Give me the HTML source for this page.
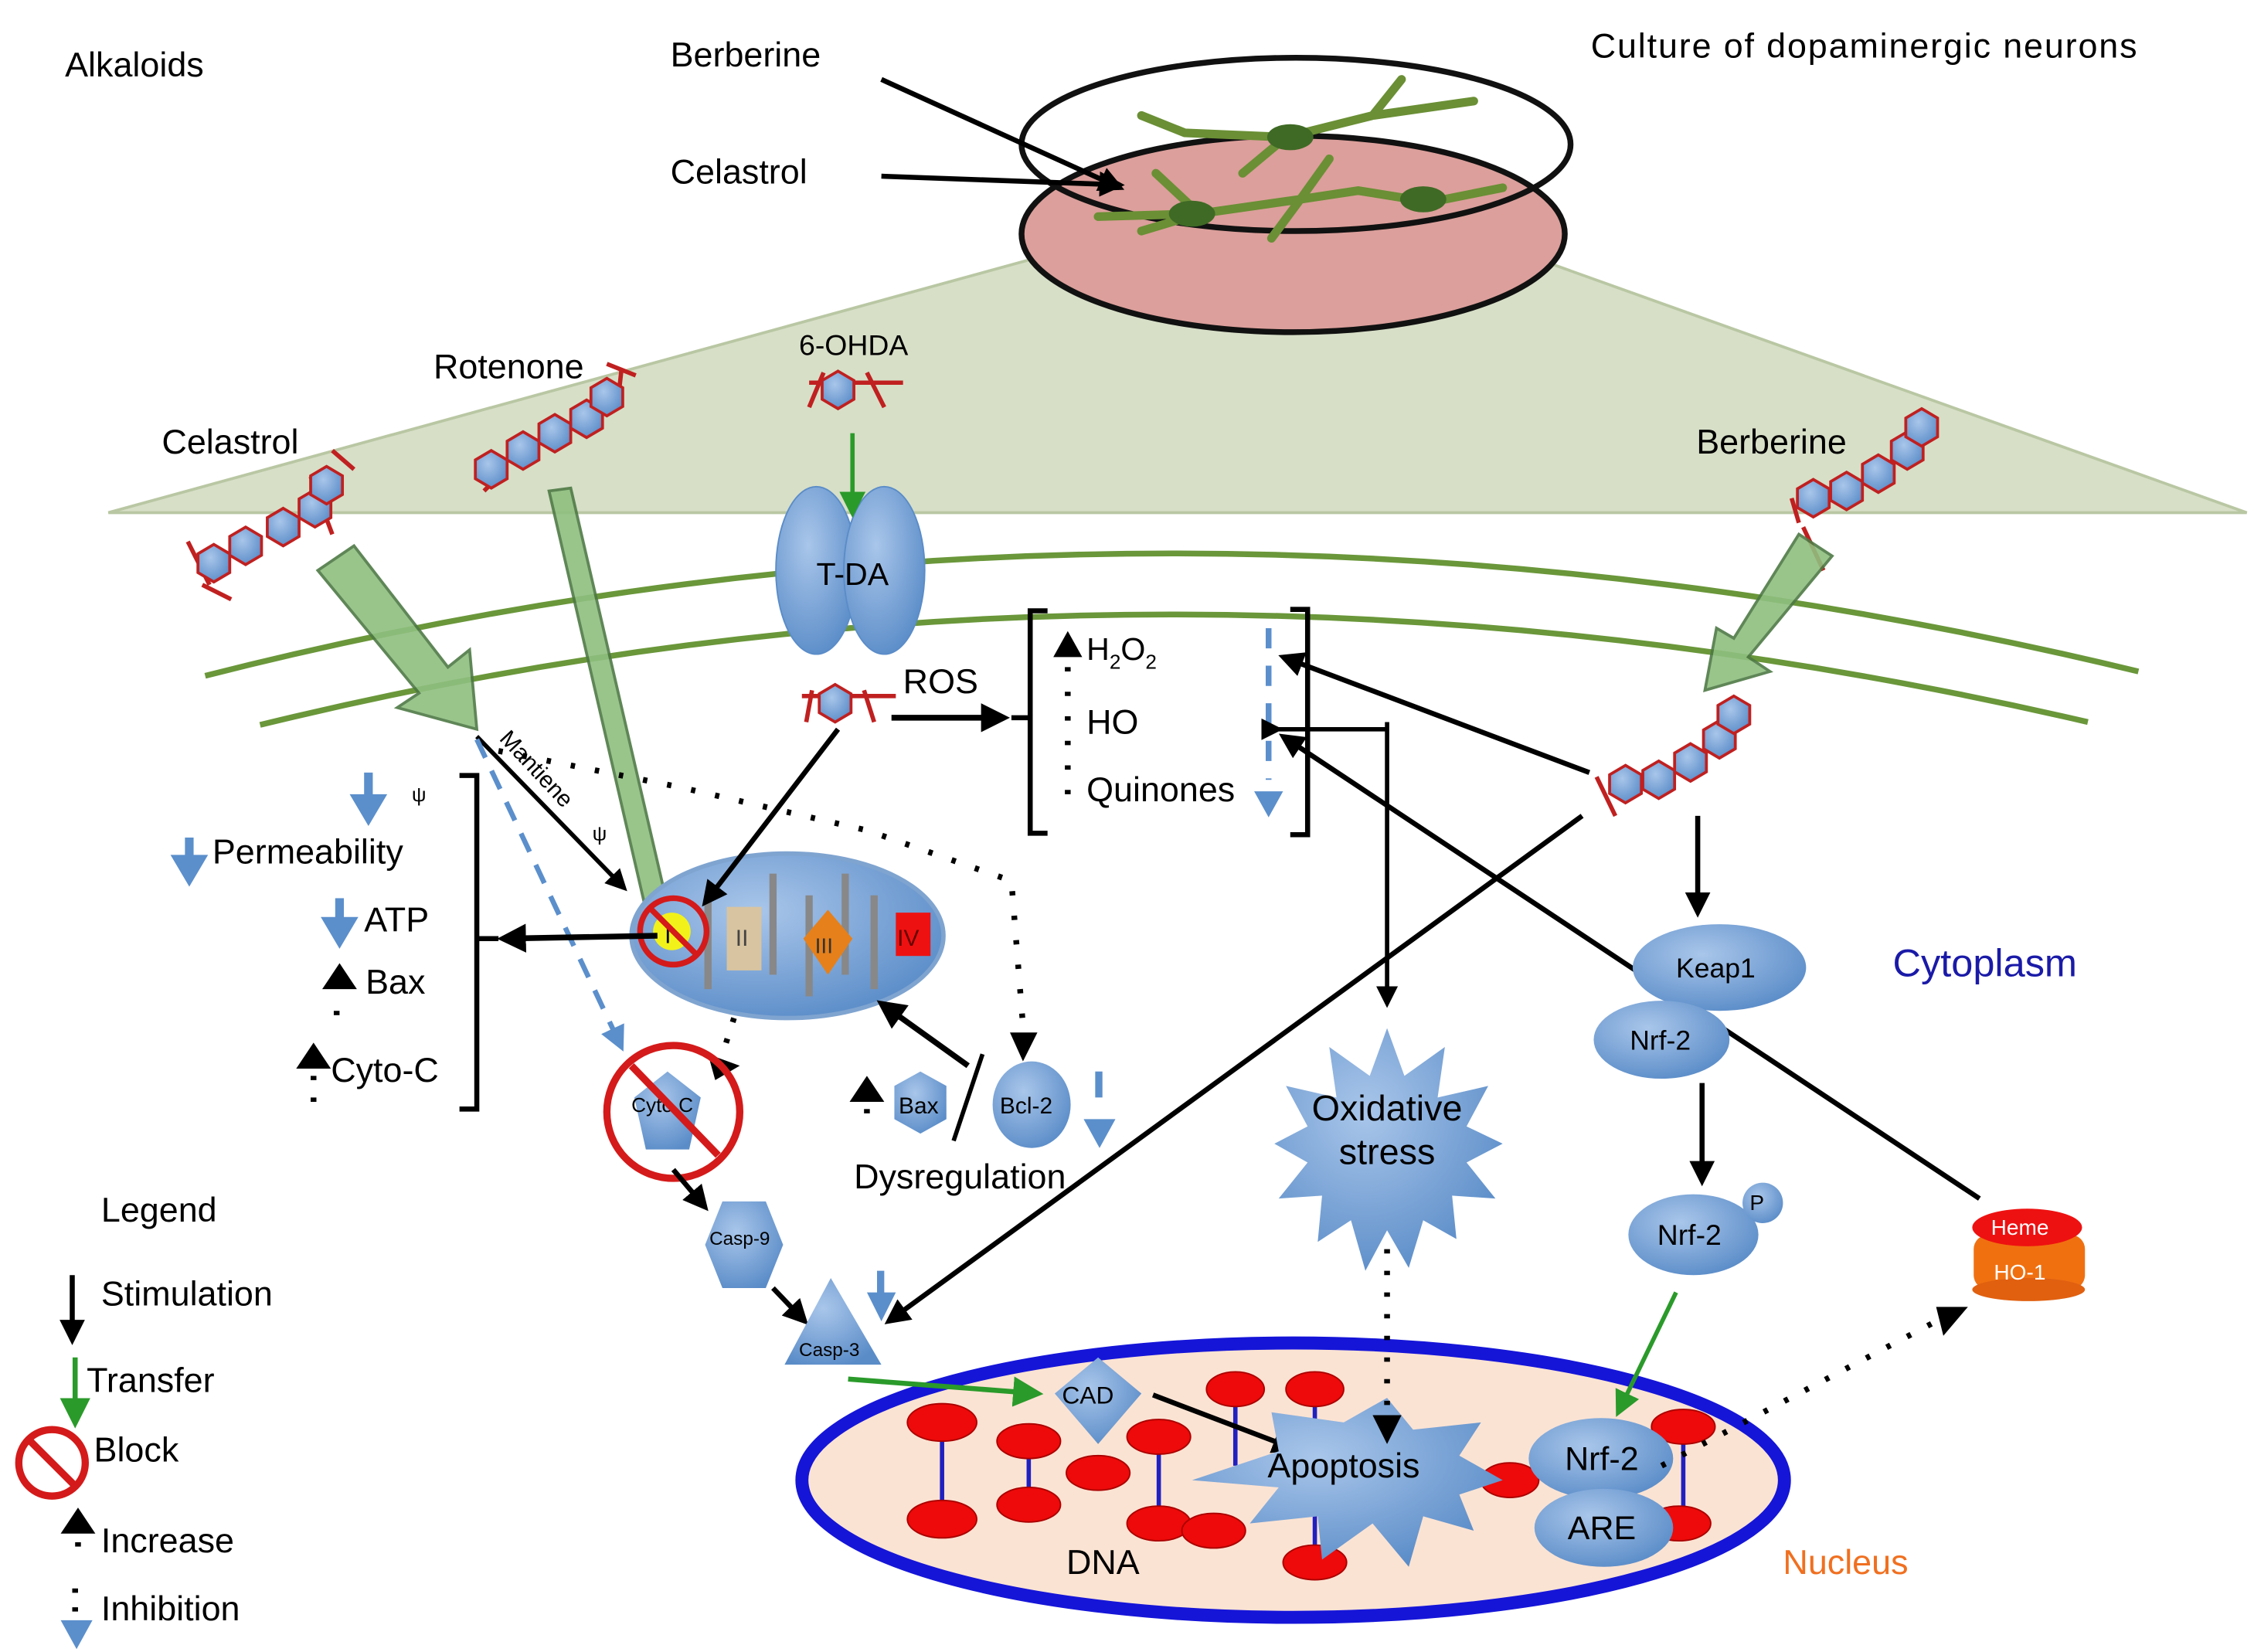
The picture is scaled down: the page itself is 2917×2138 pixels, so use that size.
<!DOCTYPE html>
<html><head><meta charset="utf-8"><style>
html,body{margin:0;padding:0;background:#fff}
svg{display:block}
text{font-family:"Liberation Sans",sans-serif;fill:#000}
</style></head><body>
<svg width="2917" height="2138" viewBox="0 0 1560 1144" preserveAspectRatio="none" xmlns="http://www.w3.org/2000/svg">
<defs>
<marker id="ab" viewBox="0 0 10 10" refX="8" refY="5" markerWidth="5" markerHeight="5" orient="auto"><path d="M0,0L10,5L0,10z" fill="#000"/></marker>
<marker id="ag" viewBox="0 0 10 10" refX="8" refY="5" markerWidth="6" markerHeight="6" orient="auto"><path d="M0,0L10,5L0,10z" fill="#2a9a2a"/></marker>
<marker id="abl" viewBox="0 0 10 10" refX="8" refY="5" markerWidth="5" markerHeight="5" orient="auto"><path d="M0,0L10,5L0,10z" fill="#5b8fcc"/></marker>
<radialGradient id="bg" cx="40%" cy="35%" r="70%"><stop offset="0" stop-color="#a9c6ea"/><stop offset="1" stop-color="#5a8cc8"/></radialGradient>
<g id="hex"><polygon points="0,-13 11,-6.5 11,6.5 0,13 -11,6.5 -11,-6.5" fill="url(#bg)" stroke="#c02020" stroke-width="2"/></g>
</defs>

<polygon points="75,355 1555,355 1010,160 785,160" fill="#d7dfc7" stroke="#b9c7a3" stroke-width="2"/>

<ellipse cx="895" cy="162" rx="188" ry="68" fill="#dc9f9b" stroke="#111" stroke-width="4"/>
<ellipse cx="897" cy="100" rx="190" ry="60" fill="none" stroke="#111" stroke-width="4"/>
<g stroke="#6a8f35" stroke-width="6" fill="none" stroke-linecap="round">
<path d="M760,150 L830,148 L900,138 L940,132 L990,140 L1040,130 M830,148 L800,120 M830,148 L790,160 M900,138 L920,110 M900,138 L880,165"/>
<path d="M820,92 L890,95 L950,80 L1020,70 M890,95 L860,120 M950,80 L970,55 M820,92 L790,80"/>
</g>
<g fill="#3f6a25"><ellipse cx="825" cy="148" rx="16" ry="9"/><ellipse cx="893" cy="95" rx="16" ry="9"/><ellipse cx="985" cy="138" rx="16" ry="9"/></g>
<line x1="610" y1="55" x2="775" y2="130" stroke="#000" stroke-width="3.5" marker-end="url(#ab)"/>
<line x1="610" y1="122" x2="775" y2="128" stroke="#000" stroke-width="3.5" marker-end="url(#ab)"/>

<path d="M142,468 Q800,300 1480,465" fill="none" stroke="#6a973a" stroke-width="4"/>
<path d="M180,502 Q800,350 1445,500" fill="none" stroke="#6a973a" stroke-width="4"/>

<text x="45" y="53" font-size="24">Alkaloids</text>
<text x="464" y="46" font-size="24">Berberine</text>
<text x="464" y="127" font-size="24">Celastrol</text>
<text x="1101" y="40" font-size="24" textLength="378">Culture of dopaminergic neurons</text>
<text x="300" y="262" font-size="24">Rotenone</text>
<text x="553" y="246" font-size="20">6-OHDA</text>
<text x="112" y="314" font-size="24">Celastrol</text>
<text x="1174" y="314" font-size="24">Berberine</text>
<text x="1310" y="676" font-size="27" style="fill:#1a1aa8">Cytoplasm</text>

<g stroke="#c02020" stroke-width="3">
<line x1="130" y1="375" x2="145" y2="405"/><line x1="230" y1="312" x2="245" y2="325"/><line x1="215" y1="330" x2="230" y2="370"/><line x1="140" y1="405" x2="160" y2="415"/>
<line x1="420" y1="252" x2="440" y2="260"/><line x1="430" y1="257" x2="428" y2="275"/><line x1="345" y1="330" x2="335" y2="340"/>
<line x1="560" y1="265" x2="625" y2="265"/><line x1="570" y1="258" x2="560" y2="282"/><line x1="600" y1="258" x2="612" y2="282"/>
<line x1="555" y1="482" x2="620" y2="482"/><line x1="562" y1="478" x2="558" y2="500"/><line x1="598" y1="478" x2="605" y2="500"/>
<line x1="1240" y1="345" x2="1245" y2="362"/><line x1="1105" y1="538" x2="1118" y2="565"/><line x1="1248" y1="365" x2="1262" y2="395"/>
</g>
<use href="#hex" x="148" y="390"/><use href="#hex" x="170" y="378"/><use href="#hex" x="196" y="365"/><use href="#hex" x="218" y="352"/><use href="#hex" x="226" y="336"/>
<use href="#hex" x="340" y="325"/><use href="#hex" x="362" y="312"/><use href="#hex" x="384" y="300"/><use href="#hex" x="406" y="290"/><use href="#hex" x="420" y="275"/>
<use href="#hex" x="580" y="270"/>
<use href="#hex" x="578" y="487"/>
<use href="#hex" x="1255" y="345"/><use href="#hex" x="1278" y="340"/><use href="#hex" x="1300" y="328"/><use href="#hex" x="1320" y="312"/><use href="#hex" x="1330" y="296"/>
<use href="#hex" x="1125" y="543"/><use href="#hex" x="1148" y="540"/><use href="#hex" x="1170" y="528"/><use href="#hex" x="1190" y="512"/><use href="#hex" x="1200" y="495"/>

<polygon points="220,395 245,378 310,462 325,450 330,505 275,490 290,480" fill="#8fbf7f" stroke="#4e7a45" stroke-width="2" opacity="0.9"/>
<polygon points="1245,370 1268,385 1210,455 1225,465 1180,478 1188,435 1200,442" fill="#8fbf7f" stroke="#4e7a45" stroke-width="2" opacity="0.9"/>
<polygon points="380,340 395,338 465,640 450,643" fill="#8fbf7f" stroke="#4e7a45" stroke-width="2" opacity="0.9"/>

<ellipse cx="565" cy="395" rx="28" ry="58" fill="url(#bg)" stroke="#5a8cc8"/>
<ellipse cx="612" cy="395" rx="28" ry="58" fill="url(#bg)" stroke="#5a8cc8"/>
<text x="565" y="405" font-size="22">T-DA</text>
<line x1="590" y1="300" x2="590" y2="355" stroke="#2a9a2a" stroke-width="3" marker-end="url(#ag)"/>

<text x="625" y="480" font-size="24">ROS</text>
<line x1="617" y1="497" x2="695" y2="497" stroke="#000" stroke-width="4" marker-end="url(#ab)"/>
<path d="M725,423 L713,423 L713,577 L725,577 M713,497 L700,497" fill="none" stroke="#000" stroke-width="3.5"/>
<path d="M893,422 L905,422 L905,578 L893,578" fill="none" stroke="#000" stroke-width="3.5"/>
<text x="752" y="457" font-size="22">H<tspan font-size="14" dy="6">2</tspan><tspan dy="-6">O</tspan><tspan font-size="14" dy="6">2</tspan></text>
<text x="752" y="508" font-size="24">HO</text>
<text x="752" y="555" font-size="24">Quinones</text>
<line x1="739" y1="550" x2="739" y2="448" stroke="#000" stroke-width="4" stroke-dasharray="3,14"/>
<polygon points="729,455 739,437 749,455" fill="#000"/>
<line x1="878" y1="435" x2="878" y2="540" stroke="#5b8fcc" stroke-width="4" stroke-dasharray="14,12"/>
<polygon points="868,548 888,548 878,566" fill="#5b8fcc"/>

<ellipse cx="545" cy="648" rx="108" ry="57" fill="url(#bg)" stroke="#7fa4d0" stroke-width="3"/>
<g stroke="#888" stroke-width="5"><line x1="490" y1="620" x2="490" y2="685"/><line x1="535" y1="605" x2="535" y2="675"/><line x1="560" y1="620" x2="560" y2="690"/><line x1="585" y1="605" x2="585" y2="675"/><line x1="605" y1="620" x2="605" y2="685"/></g>
<circle cx="465" cy="645" r="13" fill="#f2f21a"/>
<text x="460" y="653" font-size="16">I</text>
<rect x="503" y="628" width="24" height="44" fill="#d8c4a0"/><text x="509" y="655" font-size="16" style="fill:#444">II</text>
<polygon points="573,630 590,650 573,675 556,650" fill="#e6801a"/><text x="564" y="660" font-size="15" style="fill:#333">III</text>
<rect x="620" y="632" width="24" height="30" fill="#ee1111"/><text x="621" y="655" font-size="16" style="fill:#600">IV</text>
<circle cx="466" cy="645" r="23" fill="none" stroke="#d41a1a" stroke-width="4"/><line x1="450" y1="629" x2="482" y2="661" stroke="#d41a1a" stroke-width="4"/>

<line x1="330" y1="510" x2="432" y2="615" stroke="#000" stroke-width="3" marker-end="url(#ab)"/>
<text x="345" y="512" font-size="16" transform="rotate(47 345 512)">Mantiene</text>
<text x="410" y="582" font-size="14">ψ</text>
<line x1="580" y1="505" x2="488" y2="625" stroke="#000" stroke-width="3.5" marker-end="url(#ab)"/>
<line x1="330" y1="512" x2="430" y2="725" stroke="#5b8fcc" stroke-width="3.5" stroke-dasharray="14,10" marker-end="url(#abl)"/>
<path d="M345,520 L470,545 L600,575 L700,610 L708,710" fill="none" stroke="#000" stroke-width="4" stroke-dasharray="3,14"/>
<polygon points="699,715 718,715 708,735" fill="#000"/>
<line x1="455" y1="648" x2="348" y2="650" stroke="#000" stroke-width="4" marker-end="url(#ab)"/>
<line x1="508" y1="705" x2="500" y2="730" stroke="#000" stroke-width="4" stroke-dasharray="3,12"/>
<polygon points="490,730 512,738 495,748" fill="#000"/>
<line x1="670" y1="738" x2="610" y2="695" stroke="#000" stroke-width="4" marker-end="url(#ab)"/>

<path d="M318,537 L330,537 L330,768 L318,768 M330,650 L345,650" fill="none" stroke="#000" stroke-width="3.5"/>
<g fill="#5b8fcc">
<rect x="252" y="535" width="6" height="20"/><polygon points="242,550 268,550 255,572"/>
<rect x="128" y="580" width="6" height="18"/><polygon points="118,592 144,592 131,614"/>
<rect x="232" y="622" width="6" height="18"/><polygon points="222,635 248,635 235,657"/>
</g>
<text x="285" y="555" font-size="14">ψ</text>
<text x="147" y="598" font-size="24">Permeability</text>
<text x="252" y="645" font-size="24">ATP</text>
<polygon points="223,685 235,667 247,685" fill="#000"/><text x="253" y="688" font-size="24">Bax</text>
<line x1="233" y1="700" x2="233" y2="715" stroke="#000" stroke-width="4" stroke-dasharray="3,12"/>
<polygon points="205,740 217,722 229,740" fill="#000"/><line x1="217" y1="745" x2="217" y2="765" stroke="#000" stroke-width="4" stroke-dasharray="3,12"/>
<text x="229" y="749" font-size="24">Cyto-C</text>

<polygon points="462,742 485,760 477,796 447,796 439,760" fill="url(#bg)"/>
<text x="437" y="770" font-size="14">Cyto C</text>
<circle cx="466" cy="770" r="46" fill="none" stroke="#d41a1a" stroke-width="5"/><line x1="437" y1="738" x2="497" y2="800" stroke="#d41a1a" stroke-width="5"/>
<line x1="466" y1="810" x2="488" y2="836" stroke="#000" stroke-width="3.5" marker-end="url(#ab)"/>
<polygon points="500,832 530,832 542,862 530,892 500,892 488,862" fill="url(#bg)"/>
<text x="491" y="862" font-size="13">Casp-9</text>
<line x1="535" y1="892" x2="557" y2="915" stroke="#000" stroke-width="3.5" marker-end="url(#ab)"/>
<polygon points="575,885 610,945 543,945" fill="url(#bg)"/>
<text x="553" y="939" font-size="13">Casp-3</text>
<rect x="607" y="880" width="5" height="18" fill="#5b8fcc"/><polygon points="600,895 620,895 610,915" fill="#5b8fcc"/>

<polygon points="637,742 655,752 655,775 637,785 619,775 619,752" fill="url(#bg)"/>
<text x="622" y="771" font-size="16">Bax</text>
<line x1="680" y1="730" x2="660" y2="790" stroke="#000" stroke-width="3"/>
<ellipse cx="714" cy="765" rx="27" ry="30" fill="url(#bg)"/>
<text x="692" y="771" font-size="16">Bcl-2</text>
<polygon points="588,763 600,745 612,763" fill="#000"/><line x1="600" y1="768" x2="600" y2="780" stroke="#000" stroke-width="4" stroke-dasharray="3,10"/>
<rect x="758" y="742" width="5" height="18" fill="#5b8fcc"/><polygon points="750,775 772,775 761,795" fill="#5b8fcc"/>
<text x="591" y="823" font-size="24">Dysregulation</text>

<polygon points="960,712 972,745 1000,725 995,760 1030,752 1015,780 1040,792 1015,805 1035,830 1005,828 1008,858 985,845 975,878 960,852 945,880 935,845 912,860 915,828 885,830 905,805 882,792 905,780 890,752 925,760 920,725 948,745" fill="url(#bg)"/>
<text x="960" y="776" font-size="25" text-anchor="middle">Oxidative</text>
<text x="960" y="806" font-size="25" text-anchor="middle">stress</text>
<path d="M960,500 L960,695" fill="none" stroke="#000" stroke-width="3" marker-end="url(#ab)"/>
<path d="M885,505 L960,505" fill="none" stroke="#000" stroke-width="3" marker-start="url(#ab)"/>

<line x1="1100" y1="535" x2="888" y2="455" stroke="#000" stroke-width="3.5" marker-end="url(#ab)"/>
<line x1="1095" y1="565" x2="615" y2="915" stroke="#000" stroke-width="3.5" marker-end="url(#ab)"/>
<line x1="1370" y1="830" x2="888" y2="510" stroke="#000" stroke-width="3.5" marker-end="url(#ab)"/>
<line x1="1175" y1="565" x2="1175" y2="632" stroke="#000" stroke-width="3.5" marker-end="url(#ab)"/>

<ellipse cx="1190" cy="670" rx="60" ry="30" fill="url(#bg)"/>
<text x="1160" y="677" font-size="19">Keap1</text>
<ellipse cx="1150" cy="720" rx="47" ry="27" fill="url(#bg)"/>
<text x="1128" y="727" font-size="19">Nrf-2</text>
<line x1="1178" y1="750" x2="1178" y2="818" stroke="#000" stroke-width="3.5" marker-end="url(#ab)"/>
<ellipse cx="1172" cy="855" rx="45" ry="28" fill="url(#bg)"/>
<circle cx="1220" cy="833" r="14" fill="url(#bg)"/>
<text x="1211" y="838" font-size="15">P</text>
<text x="1147" y="862" font-size="20">Nrf-2</text>

<rect x="1366" y="855" width="77" height="38" rx="10" fill="#f07010"/>
<ellipse cx="1404" cy="893" rx="39" ry="8" fill="#e06010"/>
<ellipse cx="1403" cy="850" rx="38" ry="13" fill="#ee1111"/>
<text x="1378" y="855" font-size="15" style="fill:#fff">Heme</text>
<text x="1380" y="886" font-size="15" style="fill:#fff">HO-1</text>

<ellipse cx="895" cy="1025" rx="340" ry="95" fill="#fbe3d3" stroke="#1515d8" stroke-width="9"/>
<g stroke="#2020c0" stroke-width="3">
<line x1="652" y1="985" x2="652" y2="1050"/><line x1="712" y1="1000" x2="712" y2="1040"/><line x1="802" y1="998" x2="802" y2="1052"/><line x1="855" y1="965" x2="855" y2="1015"/><line x1="910" y1="965" x2="910" y2="1080"/><line x1="1165" y1="990" x2="1165" y2="1055"/>
</g>
<g fill="#ee0a0a" stroke="#a00" stroke-width="1">
<ellipse cx="652" cy="985" rx="24" ry="13"/><ellipse cx="652" cy="1052" rx="24" ry="13"/>
<ellipse cx="712" cy="998" rx="22" ry="12"/><ellipse cx="712" cy="1042" rx="22" ry="12"/>
<ellipse cx="760" cy="1020" rx="22" ry="12"/><ellipse cx="802" cy="995" rx="22" ry="12"/><ellipse cx="802" cy="1055" rx="22" ry="12"/>
<ellipse cx="855" cy="962" rx="20" ry="12"/><ellipse cx="910" cy="962" rx="20" ry="12"/><ellipse cx="840" cy="1060" rx="22" ry="12"/>
<ellipse cx="910" cy="1082" rx="22" ry="12"/><ellipse cx="1045" cy="1025" rx="20" ry="12"/><ellipse cx="1165" cy="988" rx="22" ry="12"/><ellipse cx="1162" cy="1055" rx="22" ry="12"/>
</g>
<polygon points="760,940 790,965 760,1000 730,965" fill="url(#bg)"/>
<text x="735" y="972" font-size="17">CAD</text>
<line x1="587" y1="955" x2="718" y2="965" stroke="#2a9a2a" stroke-width="3.5" marker-end="url(#ag)"/>
<line x1="798" y1="966" x2="895" y2="1003" stroke="#000" stroke-width="3.5" marker-end="url(#ab)"/>
<polygon points="930,985 960,968 978,990 1025,985 1010,1008 1040,1025 1010,1035 1020,1060 985,1050 975,1085 950,1055 915,1080 912,1050 865,1055 885,1030 825,1025 885,1005 880,978" fill="url(#bg)"/>
<text x="930" y="1023" font-size="24" text-anchor="middle">Apoptosis</text>
<line x1="960" y1="865" x2="960" y2="985" stroke="#000" stroke-width="4" stroke-dasharray="3,12"/>
<polygon points="950,980 970,980 960,1000" fill="#000"/>
<ellipse cx="1108" cy="1010" rx="50" ry="28" fill="url(#bg)"/>
<text x="1083" y="1018" font-size="23">Nrf-2</text>
<ellipse cx="1110" cy="1058" rx="48" ry="27" fill="url(#bg)"/>
<text x="1085" y="1066" font-size="23">ARE</text>
<line x1="1160" y1="895" x2="1120" y2="978" stroke="#2a9a2a" stroke-width="3" marker-end="url(#ag)"/>
<line x1="1150" y1="1015" x2="1340" y2="915" stroke="#000" stroke-width="4" stroke-dasharray="3,13"/>
<polygon points="1340,905 1362,905 1345,925" fill="#000"/>
<text x="738" y="1090" font-size="24">DNA</text>
<text x="1234" y="1090" font-size="24" style="fill:#f07020">Nucleus</text>

<text x="70" y="846" font-size="24">Legend</text>
<line x1="50" y1="883" x2="50" y2="928" stroke="#000" stroke-width="3.5" marker-end="url(#ab)"/>
<text x="70" y="904" font-size="24">Stimulation</text>
<line x1="52" y1="940" x2="52" y2="985" stroke="#2a9a2a" stroke-width="3.5" marker-end="url(#ag)"/>
<text x="60" y="964" font-size="24">Transfer</text>
<circle cx="36" cy="1013" r="23" fill="none" stroke="#d41a1a" stroke-width="5"/><line x1="20" y1="997" x2="52" y2="1029" stroke="#d41a1a" stroke-width="5"/>
<text x="65" y="1012" font-size="24">Block</text>
<polygon points="42,1062 54,1044 66,1062" fill="#000"/><line x1="54" y1="1068" x2="54" y2="1080" stroke="#000" stroke-width="4" stroke-dasharray="3,10"/>
<text x="70" y="1075" font-size="24">Increase</text>
<line x1="52" y1="1100" x2="52" y2="1120" stroke="#000" stroke-width="4" stroke-dasharray="3,10"/>
<polygon points="42,1122 64,1122 53,1142" fill="#5b8fcc"/>
<text x="70" y="1122" font-size="24">Inhibition</text>
</svg>
</body></html>
